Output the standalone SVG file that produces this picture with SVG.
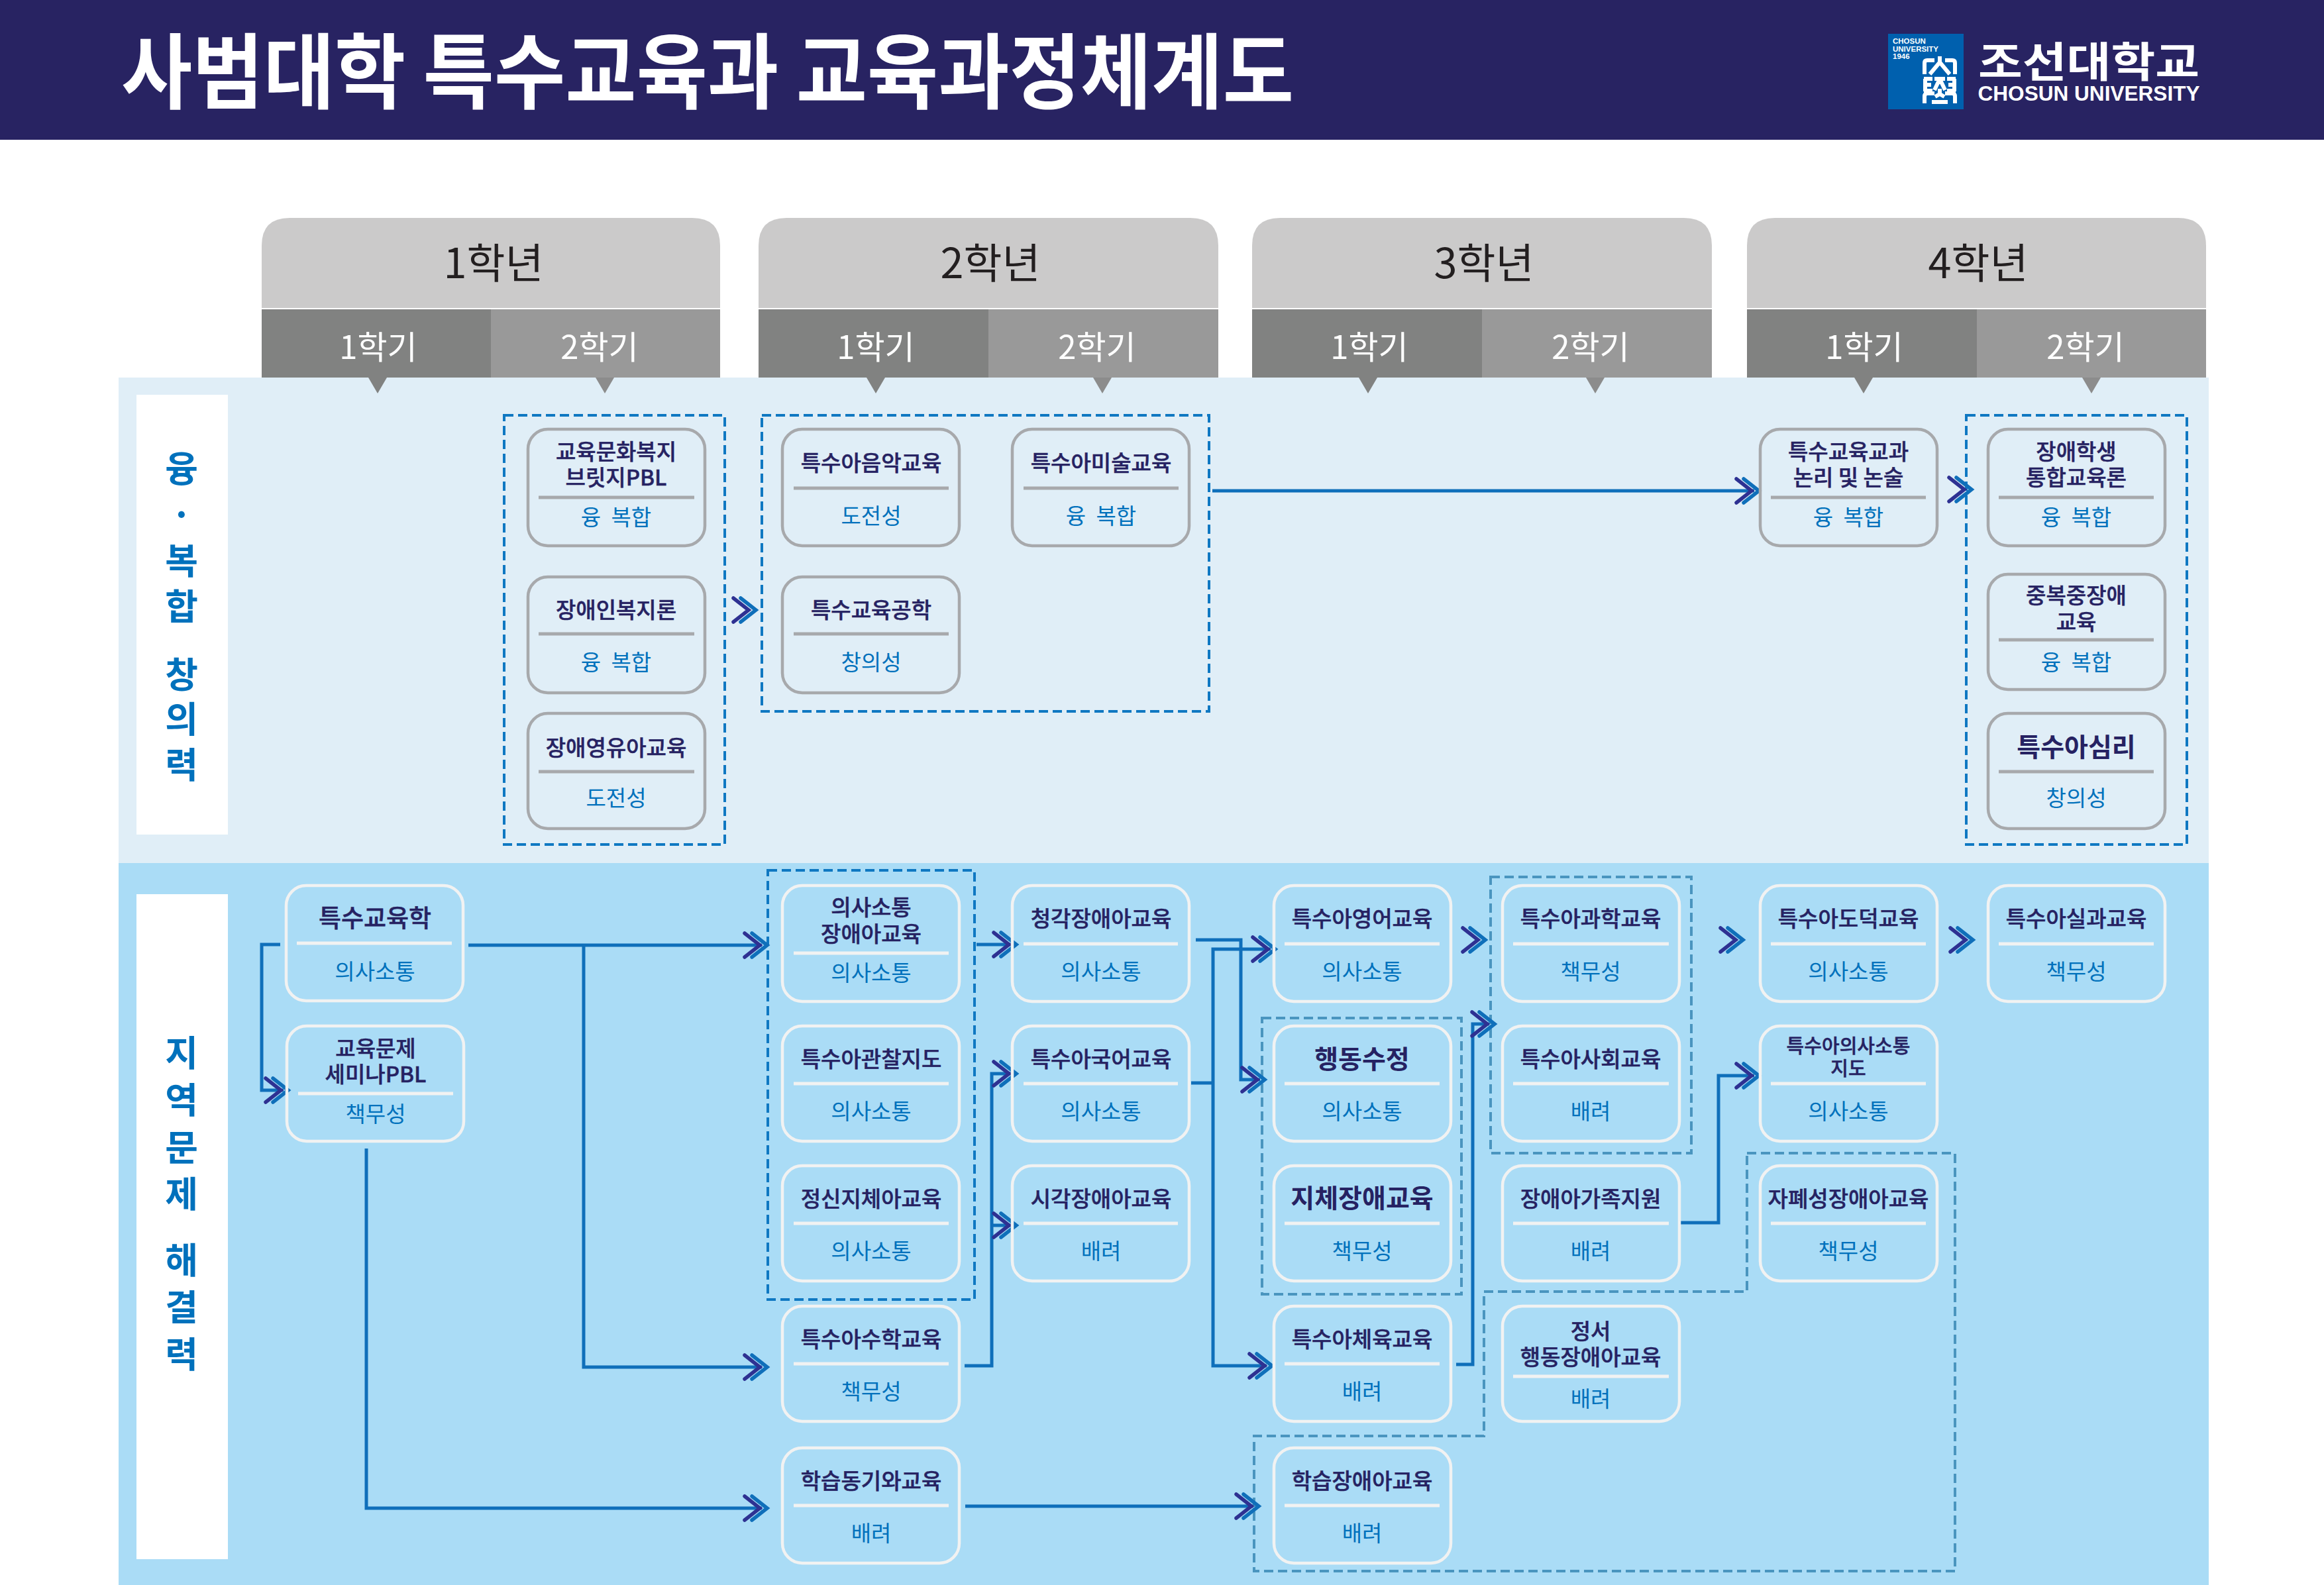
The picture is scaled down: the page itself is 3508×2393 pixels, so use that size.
<svg xmlns="http://www.w3.org/2000/svg" width="3508" height="2393" viewBox="0 0 3508 2393">
<style>
text{font-family:"Noto Sans CJK KR","Noto Sans",sans-serif;text-anchor:middle;dominant-baseline:central}
.yr{font-size:63px;fill:#231f20}
.sem{font-size:49px;fill:#fff}
.side{font-size:54px;font-weight:700;fill:#0071bc}
.t{font-size:33px;font-weight:500;fill:#262262;stroke:#262262;stroke-width:.5px}
.t2{font-size:37px;font-weight:500;fill:#262262;stroke:#262262;stroke-width:.5px}
.tb{font-size:39px;font-weight:700;fill:#262262}
.ts{font-size:29px;font-weight:500;fill:#262262;stroke:#262262;stroke-width:.5px}
.s{font-size:33px;fill:#0071bc}
.w{word-spacing:8px}
.top rect,.top line{stroke:#a7a9ac}
.low rect,.low line{stroke:#f1f2f2}
.nd rect{fill:none;stroke-width:4.500}
.nd line{stroke-width:5}
.dash{fill:none;stroke-width:4;stroke-dasharray:14 7}
.d1{stroke:#0f78c2}
.d2{stroke:#4a95bf}
.c{fill:none;stroke:#0f6fba;stroke-width:5}
.c1{fill:none;stroke:#2e3192;stroke-width:5.500;stroke-linecap:round}
.c2{fill:none;stroke:#0f6fba;stroke-width:5.500;stroke-linecap:round}
.lg{font-family:"Liberation Sans",sans-serif;font-size:11.500px;font-weight:700;fill:#fff;text-anchor:start}
</style>
<defs>
<g id="ch"><path class="c1" d="M-34 -18L-11 0L-34 18"/><path class="c2" d="M-23 -18L0 0L-23 18"/></g>
</defs>
<g id="header">
<rect width="3508" height="211" fill="#282362"/>
<text x="1068" y="100" font-size="124" font-weight="700" fill="#fff" textLength="1770" lengthAdjust="spacingAndGlyphs">사범대학 특수교육과 교육과정체계도</text>
</g>
<g id="logo">
<rect x="2850" y="51" width="114" height="114" fill="#0060ae"/>
<text class="lg" x="2857" y="62">CHOSUN</text>
<text class="lg" x="2857" y="74">UNIVERSITY</text>
<text class="lg" x="2857" y="85">1946</text>
<g fill="none" stroke="#fff" stroke-width="6">
<path d="M2905 112V95Q2905 91 2909 91H2920M2951 112V95Q2951 91 2947 91H2936"/>
<path d="M2928 85V95M2913 112L2928 94L2943 112"/>
<path d="M2904 119H2917M2906 119V138M2904 128H2915M2904 137H2917M2939 119H2952M2950 119V138M2941 128H2952M2939 137H2952M2920 119H2936M2928 119L2920 136M2928 119L2936 136"/>
<path d="M2905 156V146Q2905 141 2909 141H2920M2951 156V146Q2951 141 2947 141H2936M2928 134V142M2916 154H2940M2921 146L2928 142L2935 146"/>
</g>
<text x="3153" y="88" font-size="63" font-weight="700" fill="#fff" textLength="334" lengthAdjust="spacingAndGlyphs">조선대학교</text>
<text x="3153" y="141" font-size="31" font-weight="700" fill="#fff" textLength="335" lengthAdjust="spacingAndGlyphs" style="font-family:'Liberation Sans',sans-serif">CHOSUN UNIVERSITY</text>
</g>
<g id="bands">
<rect x="179" y="570" width="3155" height="733" fill="#e0eef7"/>
<rect x="179" y="1303" width="3155" height="1090" fill="#aadcf6"/>
<rect x="206" y="596" width="138" height="664" fill="#fff"/>
<rect x="206" y="1350" width="138" height="1004" fill="#fff"/>
</g>
<g id="label-top" transform="translate(0 -3)">
<text class="side" x="274" y="707">융</text><text class="side" x="274" y="776">·</text><text class="side" x="274" y="846">복</text><text class="side" x="274" y="915">합</text><text class="side" x="274" y="1018">창</text><text class="side" x="274" y="1085">의</text><text class="side" x="274" y="1154">력</text>
</g>
<g id="label-low" transform="translate(0 -3)">
<text class="side" x="274" y="1589">지</text><text class="side" x="274" y="1660">역</text><text class="side" x="274" y="1732">문</text><text class="side" x="274" y="1802">제</text><text class="side" x="274" y="1902">해</text><text class="side" x="274" y="1973">결</text><text class="side" x="274" y="2044">력</text>
</g>
<g id="year1">
<path d="M395 465V371Q395 329 437 329H1045Q1087 329 1087 371V465Z" fill="#cbcaca"/><text class="yr" x="745" y="392">1학년</text>
<rect x="395" y="467" width="346" height="103" fill="#818281"/><rect x="741" y="467" width="346" height="103" fill="#999"/>
<path d="M556 570H584L570 594Z" fill="#818281"/><path d="M899 570H927L913 594Z" fill="#8c8c8c"/>
<text class="sem" x="571" y="520">1학기</text><text class="sem" x="905" y="520">2학기</text>
</g>
<g id="year2">
<path d="M1145 465V371Q1145 329 1187 329H1797Q1839 329 1839 371V465Z" fill="#cbcaca"/><text class="yr" x="1495" y="392">2학년</text>
<rect x="1145" y="467" width="347" height="103" fill="#818281"/><rect x="1492" y="467" width="347" height="103" fill="#999"/>
<path d="M1308 570H1336L1322 594Z" fill="#818281"/><path d="M1650 570H1678L1664 594Z" fill="#8c8c8c"/>
<text class="sem" x="1322" y="520">1학기</text><text class="sem" x="1656" y="520">2학기</text>
</g>
<g id="year3">
<path d="M1890 465V371Q1890 329 1932 329H2542Q2584 329 2584 371V465Z" fill="#cbcaca"/><text class="yr" x="2240" y="392">3학년</text>
<rect x="1890" y="467" width="347" height="103" fill="#818281"/><rect x="2237" y="467" width="347" height="103" fill="#999"/>
<path d="M2051 570H2079L2065 594Z" fill="#818281"/><path d="M2394 570H2422L2408 594Z" fill="#8c8c8c"/>
<text class="sem" x="2067" y="520">1학기</text><text class="sem" x="2401" y="520">2학기</text>
</g>
<g id="year4">
<path d="M2637 465V371Q2637 329 2679 329H3288Q3330 329 3330 371V465Z" fill="#cbcaca"/><text class="yr" x="2986" y="392">4학년</text>
<rect x="2637" y="467" width="347" height="103" fill="#818281"/><rect x="2984" y="467" width="346" height="103" fill="#999"/>
<path d="M2799 570H2827L2813 594Z" fill="#818281"/><path d="M3143 570H3171L3157 594Z" fill="#8c8c8c"/>
<text class="sem" x="2814" y="520">1학기</text><text class="sem" x="3148" y="520">2학기</text>
</g>
<g id="groups">
<rect class="dash d1" x="761" y="627" width="333" height="648"/>
<rect class="dash d1" x="1150" y="627" width="675" height="447"/>
<rect class="dash d1" x="2968" y="627" width="333" height="648"/>
<rect class="dash d1" x="1159" y="1314" width="312" height="648"/>
<rect class="dash d2" x="1905" y="1537" width="301" height="417"/>
<rect class="dash d2" x="2250" y="1324" width="303" height="417"/>
<path class="dash d2" d="M2637 1741H2951V2372H1893V2168H2240V1950H2637Z"/>
</g>
<g id="connectors">
<path class="c" d="M1830 741H2648"/>
<path class="c" d="M423 1426H395V1646H428"/>
<path class="c" d="M707 1427H1150"/>
<path class="c" d="M881 1427V2064H1150"/>
<path class="c" d="M553 1734V2277H1150"/>
<path class="c" d="M1474 1426H1526"/>
<path class="c" d="M1805 1419H1873V1630H1902"/>
<path class="c" d="M1798 1635H1831"/>
<path class="c" d="M1918 1433H1831V2062H1912"/>
<path class="c" d="M1456 2062H1497V1621H1526"/>
<path class="c" d="M1497 1850H1526"/>
<path class="c" d="M1457 2274H1892"/>
<path class="c" d="M2198 2060H2223V1546H2248"/>
<path class="c" d="M2536 1846H2594V1624H2648"/>
<use href="#ch" transform="translate(1141 921)"/>
<use href="#ch" transform="translate(2655 741)"/>
<use href="#ch" transform="translate(2976 739)"/>
<use href="#ch" transform="translate(435 1646)"/>
<use href="#ch" transform="translate(1158 1427)"/>
<use href="#ch" transform="translate(1158 2064)"/>
<use href="#ch" transform="translate(1158 2277)"/>
<use href="#ch" transform="translate(1534 1426)"/>
<use href="#ch" transform="translate(1909 1630)"/>
<use href="#ch" transform="translate(1925 1433)"/>
<use href="#ch" transform="translate(1920 2062)"/>
<use href="#ch" transform="translate(1534 1621)"/>
<use href="#ch" transform="translate(1534 1850)"/>
<use href="#ch" transform="translate(1900 2274)"/>
<use href="#ch" transform="translate(2256 1546)"/>
<use href="#ch" transform="translate(2655 1624)"/>
<use href="#ch" transform="translate(2242 1419)"/>
<use href="#ch" transform="translate(2631 1419)"/>
<use href="#ch" transform="translate(2978 1419)"/>
</g>
<g id="n-edu-welfare" class="nd top"><rect x="797" y="648" width="267" height="176" rx="30"/><line x1="813" x2="1048" y1="751" y2="751"/><text class="t" x="930" y="680">교육문화복지</text><text class="t" x="930" y="719">브릿지PBL</text><text class="s w" x="930" y="779">융 복합</text></g>
<g id="n-disabled-welfare" class="nd top"><rect x="797" y="871" width="267" height="175" rx="30"/><line x1="813" x2="1048" y1="957" y2="957"/><text class="t" x="930" y="919">장애인복지론</text><text class="s w" x="930" y="998">융 복합</text></g>
<g id="n-infant" class="nd top"><rect x="797" y="1077" width="267" height="174" rx="30"/><line x1="813" x2="1048" y1="1165" y2="1165"/><text class="t" x="930" y="1127">장애영유아교육</text><text class="s" x="930" y="1203">도전성</text></g>
<g id="n-music" class="nd top"><rect x="1181" y="648" width="267" height="176" rx="30"/><line x1="1198" x2="1432" y1="737" y2="737"/><text class="t" x="1315" y="697">특수아음악교육</text><text class="s" x="1315" y="777">도전성</text></g>
<g id="n-tech" class="nd top"><rect x="1181" y="871" width="267" height="175" rx="30"/><line x1="1198" x2="1432" y1="957" y2="957"/><text class="t" x="1315" y="919">특수교육공학</text><text class="s" x="1315" y="998">창의성</text></g>
<g id="n-art" class="nd top"><rect x="1528" y="648" width="267" height="176" rx="30"/><line x1="1545" x2="1779" y1="737" y2="737"/><text class="t" x="1662" y="697">특수아미술교육</text><text class="s w" x="1662" y="777">융 복합</text></g>
<g id="n-logic" class="nd top"><rect x="2657" y="648" width="267" height="176" rx="30"/><line x1="2673" x2="2907" y1="751" y2="751"/><text class="t" x="2790" y="680">특수교육교과</text><text class="t" x="2790" y="719">논리 및 논술</text><text class="s w" x="2790" y="779">융 복합</text></g>
<g id="n-inclusive" class="nd top"><rect x="3001" y="648" width="267" height="176" rx="30"/><line x1="3017" x2="3251" y1="751" y2="751"/><text class="t" x="3134" y="680">장애학생</text><text class="t" x="3134" y="719">통합교육론</text><text class="s w" x="3134" y="779">융 복합</text></g>
<g id="n-multiple" class="nd top"><rect x="3001" y="867" width="267" height="174" rx="30"/><line x1="3017" x2="3251" y1="966" y2="966"/><text class="t" x="3134" y="897">중복중장애</text><text class="t" x="3134" y="937">교육</text><text class="s w" x="3134" y="998">융 복합</text></g>
<g id="n-psych" class="nd top"><rect x="3001" y="1077" width="267" height="174" rx="30"/><line x1="3017" x2="3251" y1="1165" y2="1165"/><text class="tb" x="3134" y="1125">특수아심리</text><text class="s" x="3134" y="1203">창의성</text></g>

<g id="n-special-ed" class="nd low"><rect x="432" y="1337" width="267" height="174" rx="30"/><line x1="448" x2="682" y1="1424" y2="1424"/><text class="t2" x="566" y="1384">특수교육학</text><text class="s" x="566" y="1465">의사소통</text></g>
<g id="n-seminar" class="nd low"><rect x="433" y="1549" width="267" height="174" rx="30"/><line x1="450" x2="684" y1="1651" y2="1651"/><text class="t" x="567" y="1581">교육문제</text><text class="t" x="567" y="1620">세미나PBL</text><text class="s" x="567" y="1680">책무성</text></g>
<g id="n-comm" class="nd low"><rect x="1181" y="1337" width="267" height="175" rx="30"/><line x1="1198" x2="1432" y1="1439" y2="1439"/><text class="t" x="1315" y="1368">의사소통</text><text class="t" x="1315" y="1408">장애아교육</text><text class="s" x="1315" y="1467">의사소통</text></g>
<g id="n-observe" class="nd low"><rect x="1181" y="1549" width="267" height="174" rx="30"/><line x1="1198" x2="1432" y1="1636" y2="1636"/><text class="t" x="1315" y="1597">특수아관찰지도</text><text class="s" x="1315" y="1676">의사소통</text></g>
<g id="n-intellect" class="nd low"><rect x="1181" y="1760" width="267" height="174" rx="30"/><line x1="1198" x2="1432" y1="1847" y2="1847"/><text class="t" x="1315" y="1808">정신지체아교육</text><text class="s" x="1315" y="1887">의사소통</text></g>
<g id="n-math" class="nd low"><rect x="1181" y="1972" width="267" height="174" rx="30"/><line x1="1198" x2="1432" y1="2059" y2="2059"/><text class="t" x="1315" y="2020">특수아수학교육</text><text class="s" x="1315" y="2099">책무성</text></g>
<g id="n-motive" class="nd low"><rect x="1181" y="2186" width="267" height="174" rx="30"/><line x1="1198" x2="1432" y1="2273" y2="2273"/><text class="t" x="1315" y="2234">학습동기와교육</text><text class="s" x="1315" y="2313">배려</text></g>
<g id="n-hearing" class="nd low"><rect x="1528" y="1337" width="267" height="175" rx="30"/><line x1="1545" x2="1778" y1="1425" y2="1425"/><text class="t" x="1662" y="1385">청각장애아교육</text><text class="s" x="1662" y="1465">의사소통</text></g>
<g id="n-korean" class="nd low"><rect x="1528" y="1549" width="267" height="174" rx="30"/><line x1="1545" x2="1778" y1="1636" y2="1636"/><text class="t" x="1662" y="1597">특수아국어교육</text><text class="s" x="1662" y="1676">의사소통</text></g>
<g id="n-vision" class="nd low"><rect x="1528" y="1760" width="267" height="174" rx="30"/><line x1="1545" x2="1778" y1="1847" y2="1847"/><text class="t" x="1662" y="1808">시각장애아교육</text><text class="s" x="1662" y="1887">배려</text></g>
<g id="n-english" class="nd low"><rect x="1923" y="1337" width="267" height="175" rx="30"/><line x1="1939" x2="2173" y1="1425" y2="1425"/><text class="t" x="2056" y="1385">특수아영어교육</text><text class="s" x="2056" y="1465">의사소통</text></g>
<g id="n-behavior" class="nd low"><rect x="1923" y="1549" width="267" height="174" rx="30"/><line x1="1939" x2="2173" y1="1636" y2="1636"/><text class="tb" x="2056" y="1596">행동수정</text><text class="s" x="2056" y="1676">의사소통</text></g>
<g id="n-physical" class="nd low"><rect x="1923" y="1760" width="267" height="174" rx="30"/><line x1="1939" x2="2173" y1="1847" y2="1847"/><text class="tb" x="2056" y="1806">지체장애교육</text><text class="s" x="2056" y="1887">책무성</text></g>
<g id="n-pe" class="nd low"><rect x="1923" y="1972" width="267" height="174" rx="30"/><line x1="1939" x2="2173" y1="2059" y2="2059"/><text class="t" x="2056" y="2020">특수아체육교육</text><text class="s" x="2056" y="2099">배려</text></g>
<g id="n-learning" class="nd low"><rect x="1923" y="2186" width="267" height="174" rx="30"/><line x1="1939" x2="2173" y1="2273" y2="2273"/><text class="t" x="2056" y="2234">학습장애아교육</text><text class="s" x="2056" y="2313">배려</text></g>
<g id="n-science" class="nd low"><rect x="2268" y="1337" width="267" height="175" rx="30"/><line x1="2284" x2="2519" y1="1425" y2="1425"/><text class="t" x="2401" y="1385">특수아과학교육</text><text class="s" x="2401" y="1465">책무성</text></g>
<g id="n-social" class="nd low"><rect x="2268" y="1549" width="267" height="174" rx="30"/><line x1="2284" x2="2519" y1="1636" y2="1636"/><text class="t" x="2401" y="1597">특수아사회교육</text><text class="s" x="2401" y="1676">배려</text></g>
<g id="n-family" class="nd low"><rect x="2268" y="1760" width="267" height="174" rx="30"/><line x1="2284" x2="2519" y1="1847" y2="1847"/><text class="t" x="2401" y="1808">장애아가족지원</text><text class="s" x="2401" y="1887">배려</text></g>
<g id="n-emotion" class="nd low"><rect x="2268" y="1972" width="267" height="174" rx="30"/><line x1="2284" x2="2519" y1="2078" y2="2078"/><text class="t" x="2401" y="2008">정서</text><text class="t" x="2401" y="2047">행동장애아교육</text><text class="s" x="2401" y="2110">배려</text></g>
<g id="n-moral" class="nd low"><rect x="2657" y="1337" width="267" height="175" rx="30"/><line x1="2673" x2="2907" y1="1425" y2="1425"/><text class="t" x="2790" y="1385">특수아도덕교육</text><text class="s" x="2790" y="1465">의사소통</text></g>
<g id="n-aac" class="nd low"><rect x="2657" y="1549" width="267" height="174" rx="30"/><line x1="2673" x2="2907" y1="1636" y2="1636"/><text class="ts" x="2790" y="1577">특수아의사소통</text><text class="ts" x="2790" y="1611">지도</text><text class="s" x="2790" y="1676">의사소통</text></g>
<g id="n-autism" class="nd low"><rect x="2657" y="1760" width="267" height="174" rx="30"/><line x1="2673" x2="2907" y1="1847" y2="1847"/><text class="t" x="2790" y="1808">자폐성장애아교육</text><text class="s" x="2790" y="1887">책무성</text></g>
<g id="n-practical" class="nd low"><rect x="3001" y="1337" width="267" height="175" rx="30"/><line x1="3017" x2="3251" y1="1425" y2="1425"/><text class="t" x="3134" y="1385">특수아실과교육</text><text class="s" x="3134" y="1465">책무성</text></g>
</svg>
